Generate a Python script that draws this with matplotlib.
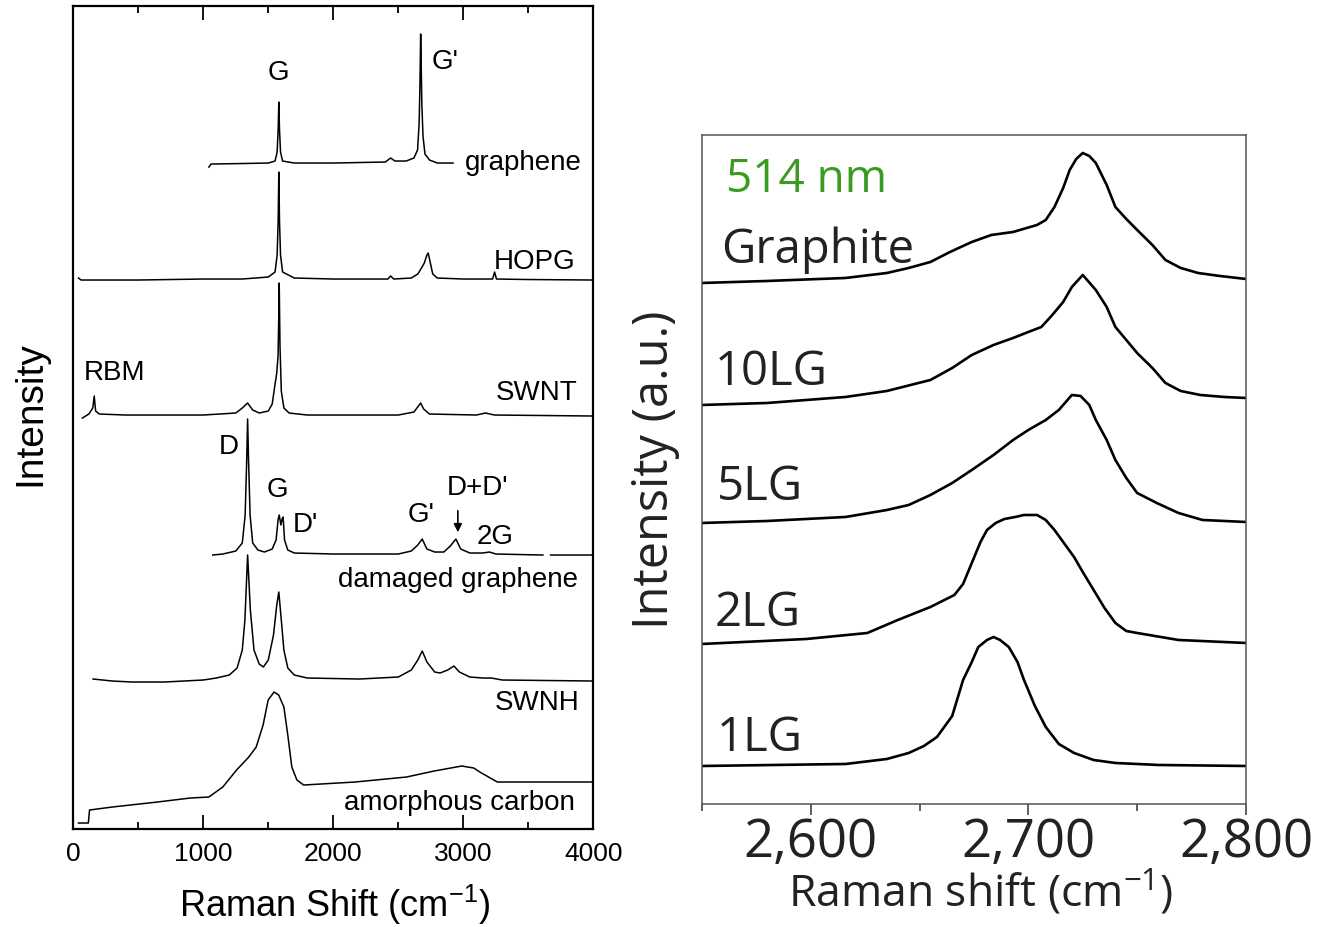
import numpy as np
import matplotlib
matplotlib.use('Agg')
import matplotlib.pyplot as plt
from matplotlib.ticker import MultipleLocator, StrMethodFormatter

plt.rcParams['mathtext.default'] = 'regular'

# ---- left panel: Raman spectra of carbon materials (intensity above each baseline) ----
graphene_x = [1043, 1060, 1300, 1500, 1552, 1568, 1576, 1581, 1586, 1594, 1610, 1700, 2000, 2400,
              2441, 2475, 2560, 2620, 2648, 2660, 2666, 2670, 2672, 2676, 2681, 2690, 2705, 2740, 2800, 2921]
graphene_y = [-3, 0, 0.5, 1, 3, 12, 35, 62, 35, 12, 3, 1, 1, 2,
              6, 3, 3, 6, 14, 40, 76, 110, 130, 100, 60, 28, 10, 4, 1, 1]

hopg_x = [40, 60, 500, 1000, 1300, 1500, 1552, 1568, 1576, 1581, 1586, 1594, 1610, 1700, 2000, 2420,
          2441, 2465, 2600, 2650, 2669, 2700, 2720, 2730, 2745, 2765, 2800, 3000, 3225, 3241, 3255, 3500, 4000]
hopg_y = [2, 0, 0, 1, 1, 3, 8, 25, 60, 108, 60, 25, 8, 2, 1, 1,
          4, 1, 2, 6, 10, 17, 25, 27, 18, 6, 2, 1, 1, 8, 1, 0.5, 0]

swnt_x = [70, 120, 150, 161, 172, 200, 400, 1000, 1250, 1300, 1341, 1380, 1430, 1500, 1530, 1550,
          1565, 1575, 1580, 1584, 1590, 1600, 1620, 1660, 1800, 2500, 2620, 2655, 2672, 2695, 2740,
          3100, 3171, 3240, 4000]
swnt_y = [-2, 2, 8, 20, 5, 2, 1, 1, 3, 8, 13, 6, 3, 5, 12, 30,
          43, 60, 95, 133, 70, 25, 8, 3, 1, 1, 4, 10, 13, 7, 2,
          1, 3, 1, 0]

damaged_x = [1073, 1150, 1250, 1300, 1322, 1334, 1341, 1348, 1360, 1380, 1420, 1470, 1530, 1560,
             1575, 1584, 1597, 1606, 1614, 1625, 1650, 1700, 2000, 2500, 2600, 2650, 2684, 2720,
             2780, 2850, 2900, 2943, 2980, 3050, 3150, 3201, 3250, 3612, np.nan, 3672, 4000]
damaged_y = [0, 1, 4, 12, 40, 95, 136, 95, 40, 12, 5, 3, 6, 15,
             35, 40, 30, 36, 38, 15, 5, 2, 1, 1, 4, 10, 16, 6,
             3, 3, 9, 16, 6, 2, 2, 3, 1, 0, np.nan, 0, 0]

swnh_x = [152, 300, 450, 700, 1000, 1100, 1200, 1260, 1300, 1320, 1341, 1362, 1390, 1430, 1462,
          1500, 1540, 1565, 1581, 1600, 1620, 1650, 1700, 1800, 2200, 2500, 2600, 2650, 2684, 2720,
          2780, 2821, 2880, 2928, 2970, 3050, 3150, 3216, 3300, 4000]
swnh_y = [1, -1, -2, -2, 0, 2, 5, 12, 30, 60, 125, 70, 30, 16, 13,
          20, 45, 75, 88, 60, 30, 12, 5, 2, 1, 3, 10, 20, 29, 18,
          8, 7, 10, 14, 8, 3, 2, 2, 0, -1]

amorphous_x = [40, 116, 125, 300, 648, 900, 1043, 1150, 1256, 1350, 1407, 1460, 1499, 1544, 1580,
               1620, 1650, 1681, 1720, 1772, 2168, 2563, 2776, 2988, 3080, 3140, 3262, 4000]
amorphous_y = [-41, -41, -28, -25, -20, -16, -15, -5, 12, 25, 35, 57, 82, 90, 87,
               75, 47, 15, 2, -3, 0, 5, 11, 16, 14, 9, 0, 0]

left_spectra = [
    (graphene_x, graphene_y, 'graphene'),
    (hopg_x, hopg_y, 'HOPG'),
    (swnt_x, swnt_y, 'SWNT'),
    (damaged_x, damaged_y, 'damaged graphene'),
    (swnh_x, swnh_y, 'SWNH'),
    (amorphous_x, amorphous_y, 'amorphous carbon'),
]
left_offsets = [665, 549, 413, 274, 149, 47]

# ---- right panel: 2D (G') band vs number of layers ----
graphite_x = [2550, 2580, 2616, 2635, 2645, 2655, 2664, 2674, 2683, 2693, 2704, 2708, 2712, 2716, 2719,
              2722, 2725, 2728, 2731, 2736, 2740, 2745, 2750, 2757, 2763, 2770, 2778, 2788, 2800]
graphite_y = [0, 2, 5, 10, 15, 21, 31, 41, 48, 51, 58, 63, 76, 95, 113,
              124, 130, 127, 120, 98, 76, 64, 53, 38, 23, 15, 10, 7, 4]

lg10_x = [2550, 2580, 2616, 2635, 2655, 2665, 2674, 2684, 2693, 2700, 2706, 2711, 2716, 2720,
          2725, 2731, 2736, 2740, 2745, 2750, 2757, 2763, 2770, 2779, 2790, 2800]
lg10_y = [0, 2, 8, 14, 25, 37, 50, 60, 67, 73, 78, 90, 103, 118,
          130, 115, 98, 78, 65, 52, 37, 22, 14, 10, 8, 7]

lg5_x = [2550, 2580, 2616, 2635, 2645, 2655, 2665, 2674, 2684, 2693, 2700, 2708, 2714, 2720,
         2724, 2728, 2731, 2736, 2740, 2745, 2750, 2759, 2769, 2780, 2800]
lg5_y = [0, 2, 6, 13, 18, 28, 40, 53, 68, 83, 93, 103, 113, 128,
         127, 118, 103, 83, 63, 45, 30, 20, 10, 3, 1]

lg2_x = [2550, 2598, 2626, 2640, 2655, 2666, 2670, 2674, 2678, 2681, 2685, 2689, 2694, 2698, 2704, 2708,
         2712, 2716, 2721, 2725, 2730, 2735, 2740, 2745, 2750, 2769, 2800]
lg2_y = [0, 5, 11, 24, 37, 49, 60, 81, 102, 114, 121, 125, 127, 129, 129, 124,
         114, 102, 87, 72, 54, 36, 21, 13, 11, 4, 1]

lg1_x = [2550, 2616, 2635, 2645, 2652, 2658, 2665, 2670, 2674, 2677, 2681, 2684, 2687, 2691, 2695,
         2698, 2703, 2708, 2714, 2721, 2730, 2740, 2760, 2800]
lg1_y = [0, 2, 7, 13, 20, 29, 50, 86, 104, 119, 126, 129, 126, 119, 104,
         86, 60, 39, 22, 13, 6, 3, 1, 0]

right_spectra = [
    (graphite_x, graphite_y, 'Graphite'),
    (lg10_x, lg10_y, '10LG'),
    (lg5_x, lg5_y, '5LG'),
    (lg2_x, lg2_y, '2LG'),
    (lg1_x, lg1_y, '1LG'),
]
right_offsets = [521, 399, 281, 160, 38]

LEFT_FONT = ['Liberation Sans', 'DejaVu Sans']
RIGHT_FONT = ['Open Sans', 'DejaVu Sans']


def draw_left(ax):
    for (x, y, _), off in zip(left_spectra, left_offsets):
        ax.plot(x, np.array(y, dtype=float) + off, color='black', lw=1.1)

    ax.set_xlim(0, 4000)
    ax.set_ylim(0, 823)
    ax.set_yticks([])
    ax.xaxis.set_major_locator(MultipleLocator(1000))
    ax.xaxis.set_minor_locator(MultipleLocator(500))
    ax.tick_params(axis='x', which='both', direction='in', top=True, width=1.3,
                   labelsize=19, pad=9)
    ax.tick_params(axis='x', which='major', length=10)
    ax.tick_params(axis='x', which='minor', length=5)
    for sp in ax.spines.values():
        sp.set_linewidth(1.6)

    ax.set_xlabel('Raman Shift (cm$^{-1}$)', fontsize=26)
    ax.xaxis.label.set_verticalalignment('center')
    ax.xaxis.set_label_coords(0.503, -0.092)
    ax.set_ylabel('Intensity', fontsize=28)
    ax.yaxis.label.set_verticalalignment('center')
    ax.yaxis.set_label_coords(-0.083, 0.505)

    kw = dict(fontsize=20, ha='center', va='center')
    ax.text(1575, 756, 'G', **kw)
    ax.text(2760, 767, "G'", fontsize=20, ha='left', va='center')
    ax.text(3459, 666, 'graphene', **kw)
    ax.text(3551, 567, 'HOPG', **kw)
    ax.text(319, 456, 'RBM', **kw)
    ax.text(3566, 436, 'SWNT', **kw)
    ax.text(1195, 382, 'D', **kw)
    ax.text(1569, 339, 'G', **kw)
    ax.text(1788, 304, "D'", **kw)
    ax.text(2678, 314, "G'", **kw)
    ax.text(3110, 341, "D+D'", **kw)
    ax.text(3247, 292, '2G', **kw)
    ax.text(2958, 249, 'damaged graphene', **kw)
    ax.text(3566, 126, 'SWNH', **kw)
    ax.text(2973, 26, 'amorphous carbon', **kw)
    ax.annotate('', xy=(2958, 294), xytext=(2958, 321),
                arrowprops=dict(arrowstyle='-|>', color='black', lw=1.2, mutation_scale=12))


def draw_right(ax):
    for (x, y, _), off in zip(right_spectra, right_offsets):
        ax.plot(x, np.array(y, dtype=float) + off, color='black', lw=1.9)

    ax.set_xlim(2550, 2800)
    ax.set_ylim(0, 669)
    ax.set_yticks([])
    ax.xaxis.set_major_locator(MultipleLocator(100))
    ax.xaxis.set_minor_locator(MultipleLocator(50))
    ax.xaxis.set_major_formatter(StrMethodFormatter('{x:,.0f}'))
    ax.tick_params(axis='x', which='both', direction='out', color='#444444', width=1.2,
                   labelsize=38, pad=1, labelcolor='#222222')
    ax.tick_params(axis='x', which='major', length=8)
    ax.tick_params(axis='x', which='minor', length=5)
    for sp in ax.spines.values():
        sp.set_linewidth(1.1)
        sp.set_color('#555555')

    ax.set_xlabel('Raman shift (cm$^{-1}$)', fontsize=32, color='#222222')
    ax.xaxis.label.set_verticalalignment('center')
    ax.xaxis.set_label_coords(0.513, -0.133)
    ax.set_ylabel('Intensity (a.u.)', fontsize=35, color='#222222')
    ax.yaxis.label.set_verticalalignment('center')
    ax.yaxis.set_label_coords(-0.086, 0.5)

    ax.text(2561, 624, '514 nm', fontsize=33, color='#3a9a22', ha='left', va='center')
    label_pos = [(2558.6, 554), (2555.7, 432), (2556.7, 317), (2555.7, 191), (2556.7, 66)]
    for (_, _, name), (lx, ly) in zip(right_spectra, label_pos):
        ax.text(lx, ly, name, fontsize=34, color='#222222', ha='left', va='center')


fig = plt.figure(figsize=(13.3, 9.27), dpi=100)
ax_left = fig.add_axes([0.0551, 0.1057, 0.391, 0.8878])
ax_right = fig.add_axes([0.5278, 0.1327, 0.409, 0.7217])

draw_left(ax_left)
for t in ax_left.texts + ax_left.get_xticklabels() + [ax_left.xaxis.label, ax_left.yaxis.label]:
    t.set_fontfamily(LEFT_FONT)

draw_right(ax_right)
for t in ax_right.texts + ax_right.get_xticklabels() + [ax_right.xaxis.label, ax_right.yaxis.label]:
    t.set_fontfamily(RIGHT_FONT)

fig.savefig('out.png', dpi=100)
